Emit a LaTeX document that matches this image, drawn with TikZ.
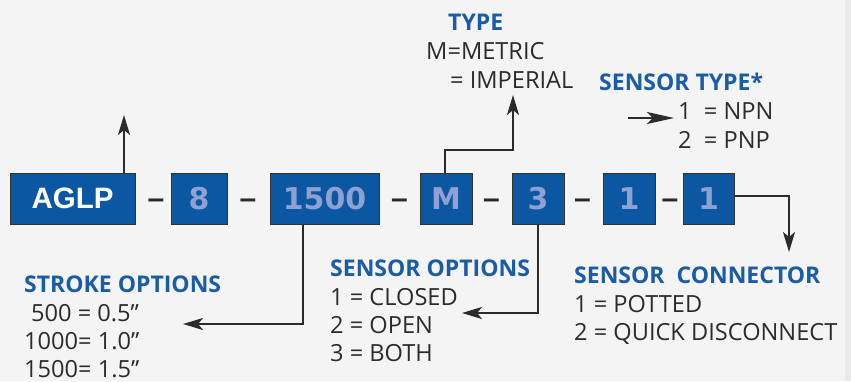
\documentclass[tikz,border=0pt]{standalone}
\usepackage{fontspec}
\setmainfont{Open Sans}
\newfontfamily\boxfont{Liberation Sans}
\newfontfamily\numfont{DejaVu Sans}
\usetikzlibrary{arrows.meta}
\definecolor{bg}{HTML}{F4F4F4}
\definecolor{edgestrip}{HTML}{EAEAEA}
\definecolor{boxblue}{HTML}{0C57A2}
\definecolor{numcol}{HTML}{8FA0D2}
\definecolor{lblue}{HTML}{1A5CA6}
\definecolor{ink}{HTML}{2B2B2B}
\definecolor{boxline}{HTML}{333333}
\tikzset{
  cbox/.style={draw=boxline, line width=1pt, fill=boxblue, inner sep=0pt, minimum height=51pt},
  numtxt/.style={text=numcol, font=\numfont\bfseries\fontsize{30}{30}\selectfont},
  sep/.style={inner sep=0pt, text=ink, font=\boxfont\bfseries\fontsize{30}{30}\selectfont, anchor=base},
  head/.style={inner sep=0pt, anchor=base west, text=lblue, font=\bfseries\fontsize{23}{27}\selectfont},
  body/.style={inner sep=0pt, anchor=base west, text=ink, font=\fontsize{23.6}{28}\selectfont},
  arr/.style={draw=ink, line width=2pt, -{Stealth[length=20pt,width=12pt,inset=5pt]}},
}
\begin{document}
\begin{tikzpicture}[x=1pt,y=-1pt]
\fill[bg] (0,0) rectangle (851,381);
\fill[edgestrip] (845,0) rectangle (851,381);
\useasboundingbox (0,0) rectangle (851,381);

% boxes
\node[cbox, minimum width=125pt, text=white, font=\boxfont\bfseries\fontsize{29.5}{29.5}\selectfont] (aglp) at (72.5,198.5) {AGLP};
\node[cbox, minimum width=56pt, numtxt] (b8) at (199,198.5) {8};
\node[cbox, minimum width=109pt, numtxt] (b1500) at (324.5,198.5) {1500};
\node[cbox, minimum width=52pt, numtxt] (bM) at (446,198.5) {M};
\node[cbox, minimum width=52pt, numtxt] (b3) at (538,198.5) {3};
\node[cbox, minimum width=52pt, numtxt] (b1a) at (629,198.5) {1};
\node[cbox, minimum width=51pt, numtxt] (b1b) at (708.5,198.5) {1};

% separators
\node[sep] (d1) at (156,208.5) {–};
\node[sep] (d2) at (248,208.5) {–};
\node[sep] (d3) at (399.5,208.5) {–};
\node[sep] (d4) at (491.5,208.5) {–};
\node[sep] (d5) at (582.5,208.5) {–};
\node[sep] (d6) at (670,208.5) {–};

% labels
\node[head] (typeh) at (448,30) {TYPE};
\node[body] (metric) at (426,59) {M=METRIC};
\node[body] (imperial) at (450,88) {= IMPERIAL};

\node[head] (stypeh) at (599,90) {SENSOR TYPE*};
\node[body] (npn) at (678,119) {1\ \ = NPN};
\node[body] (pnp) at (678,148) {2\ \ = PNP};

\node[head] (strokeh) at (24,292.5) {STROKE OPTIONS};
\node[body] (s500) at (31,321.5) {500 = 0.5”};
\node[body] (s1000) at (24,349.5) {1000= 1.0”};
\node[body] (s1500) at (24,377) {1500= 1.5”};

\node[head] (soh) at (330,276) {SENSOR OPTIONS};
\node[body] (closed) at (330,305) {1 = CLOSED};
\node[body] (open) at (330,333) {2 = OPEN};
\node[body] (both) at (330,361.5) {3 = BOTH};

\node[head] (conh) at (574,283) {SENSOR\ \ CONNECTOR};
\node[body] (potted) at (574,312.5) {1 = POTTED};
\node[body] (quick) at (574,340.5) {2 = QUICK DISCONNECT};

% connector ends
\coordinate (aglptip) at (124,115);
\coordinate (typebend) at (513,150);
\coordinate (typetip) at (513,95);
\coordinate (npnstart) at (628,118);
\coordinate (npntip) at (674,118);
\coordinate (stroketip) at (183,324);
\coordinate (sotip) at (462,313);
\coordinate (conntip) at (789,252);

\draw[arr] ([xshift=51.5pt]aglp.north) -- (aglptip);
\draw[arr] ([xshift=-1pt]bM.north) |- (typebend) -- (typetip);
\draw[arr, -{Stealth[length=27pt,width=12pt,inset=6pt]}] (npnstart) -- (npntip);
\draw[arr] ([xshift=-21.5pt]b1500.south) |- (stroketip);
\draw[arr] (b3.south) |- (sotip);
\draw[arr] ([yshift=2.5pt]b1b.east) -| (conntip);
\end{tikzpicture}
\end{document}
